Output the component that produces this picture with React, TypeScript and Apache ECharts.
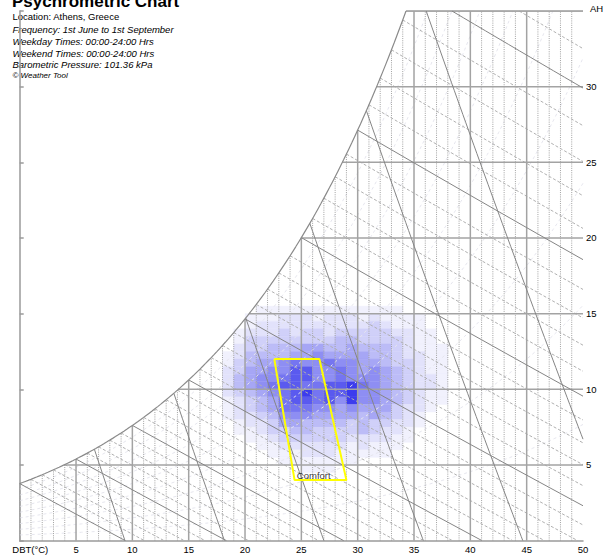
import React, { useEffect, useRef } from "react";
import * as echarts from "echarts";

// ---------- chart constants / text ----------
const PRESSURE_KPA = 101.36;
const titleText = "Psychrometric Chart";
const infoLines = [
  "Location: Athens, Greece",
  "Frequency: 1st June to 1st September",
  "Weekday Times: 00:00-24:00 Hrs",
  "Weekend Times: 00:00-24:00 Hrs",
  "Barometric Pressure: 101.36 kPa",
];
const creditText = "© Weather Tool";
const xAxisName = "DBT(°C)";
const yAxisName = "AH";

// axes (DBT °C, AH g/kg)
const dbtMin = 0;
const dbtMax = 50;
const dbtStep = 5;
const ahMin = 0;
const ahMax = 35;
const ahStep = 5;

// psychrometric line families
const wetBulbTemps = Array.from({ length: 37 }, (_, i) => i); // 0..36 °C
const specificVolumes = [0.8, 0.825, 0.85, 0.875, 0.9, 0.925]; // m3/kg
const relHumidities = [0.1, 0.2, 0.3, 0.4, 0.5, 0.6, 0.7, 0.8, 0.9];

// frequency bins: columns = DBT lower edge (1 °C wide), rows = AH lower edge (0.5 g/kg tall)
const heatDBT = [18, 19, 20, 21, 22, 23, 24, 25, 26, 27, 28, 29, 30, 31, 32, 33, 34, 35, 36, 37];
const heatAH = [15, 14.5, 14, 13.5, 13, 12.5, 12, 11.5, 11, 10.5, 10, 9.5, 9, 8.5, 8, 7.5, 7, 6.5, 6, 5.5, 5, 4.5];
const freq15_0 = [0, 0, 0, 1, 1, 1, 1, 1, 1, 1, 1, 1, 1, 1, 1, 1, 0, 0, 0, 0];
const freq14_5 = [0, 0, 1, 1, 1, 2, 2, 2, 1, 2, 2, 2, 1, 2, 1, 1, 1, 1, 0, 0];
const freq14_0 = [0, 0, 1, 2, 2, 2, 2, 2, 2, 2, 2, 2, 2, 3, 2, 1, 1, 1, 0, 0];
const freq13_5 = [0, 1, 2, 2, 2, 3, 2, 3, 3, 2, 3, 3, 3, 3, 3, 2, 2, 1, 1, 0];
const freq13_0 = [0, 1, 3, 3, 3, 3, 3, 3, 3, 3, 4, 4, 3, 3, 3, 3, 2, 1, 1, 0];
const freq12_5 = [0, 2, 3, 3, 4, 4, 4, 5, 5, 4, 4, 5, 4, 4, 4, 3, 2, 1, 1, 1];
const freq12_0 = [1, 2, 4, 4, 4, 4, 5, 5, 6, 5, 5, 5, 5, 4, 4, 3, 2, 2, 1, 1];
const freq11_5 = [1, 3, 4, 5, 5, 6, 7, 6, 6, 7, 6, 6, 5, 5, 4, 3, 3, 2, 1, 1];
const freq11_0 = [2, 3, 5, 5, 6, 6, 8, 8, 6, 6, 7, 6, 5, 6, 5, 4, 3, 2, 1, 1];
const freq10_5 = [2, 4, 5, 6, 6, 7, 8, 8, 6, 6, 7, 6, 6, 6, 5, 4, 3, 2, 2, 1];
const freq10_0 = [2, 4, 5, 6, 7, 8, 8, 7, 7, 8, 8, 9, 7, 6, 5, 4, 3, 2, 2, 1];
const freq9_5 = [2, 3, 4, 5, 6, 7, 8, 9, 7, 8, 8, 9, 6, 6, 5, 4, 3, 2, 1, 1];
const freq9_0 = [1, 2, 3, 4, 5, 7, 8, 8, 7, 8, 6, 9, 6, 6, 5, 4, 3, 2, 1, 1];
const freq8_5 = [1, 2, 3, 4, 5, 7, 7, 7, 6, 6, 5, 6, 5, 5, 5, 3, 2, 2, 1, 0];
const freq8_0 = [1, 2, 2, 3, 4, 6, 6, 6, 5, 5, 5, 5, 4, 5, 4, 3, 2, 1, 0, 0];
const freq7_5 = [0, 1, 2, 2, 3, 5, 5, 4, 4, 4, 4, 3, 4, 3, 3, 2, 2, 1, 0, 0];
const freq7_0 = [0, 1, 1, 2, 3, 3, 4, 4, 3, 3, 3, 3, 4, 3, 2, 2, 1, 0, 0, 0];
const freq6_5 = [0, 0, 1, 1, 2, 3, 3, 3, 3, 3, 3, 2, 2, 2, 2, 1, 1, 0, 0, 0];
const freq6_0 = [0, 0, 0, 1, 1, 2, 2, 2, 2, 2, 2, 1, 2, 1, 1, 1, 0, 0, 0, 0];
const freq5_5 = [0, 0, 0, 0, 1, 1, 1, 2, 2, 2, 1, 1, 1, 1, 1, 0, 0, 0, 0, 0];
const freq5_0 = [0, 0, 0, 0, 0, 1, 1, 1, 1, 1, 1, 1, 0, 0, 0, 0, 0, 0, 0, 0];
const freq4_5 = [0, 0, 0, 0, 0, 0, 0, 1, 1, 1, 0, 0, 0, 0, 0, 0, 0, 0, 0, 0];
const freqRows = [
  freq15_0, freq14_5, freq14_0, freq13_5, freq13_0, freq12_5, freq12_0, freq11_5,
  freq11_0, freq10_5, freq10_0, freq9_5, freq9_0, freq8_5, freq8_0, freq7_5,
  freq7_0, freq6_5, freq6_0, freq5_5, freq5_0, freq4_5,
];

// comfort zone
const comfortDBT = [22.6, 26.6, 29.0, 24.4];
const comfortAH = [12, 12, 4, 4];
const comfortLabel = "Comfort";
const comfortLabelAt = [26.1, 4.3];

// ---------- styles ----------
const FONT = "'Liberation Sans', Arial, Helvetica, sans-serif";
const heatPalette = ["#ffffff", "#f1f1fd", "#e2e2fb", "#d0d0f9", "#bcbcf7", "#a6a6f5", "#8e8ef3", "#7575f1", "#5a5aef", "#3c3ced"];

// ---------- psychrometrics ----------
const pws = (t: number) => 0.61094 * Math.exp((17.625 * t) / (t + 243.04));
const wFromPw = (pw: number) => (621.945 * pw) / (PRESSURE_KPA - pw);
const wsat = (t: number) => wFromPw(pws(t));
const bisect = (f: (x: number) => number, a: number, b: number) => {
  let fa = f(a);
  for (let i = 0; i < 60; i++) {
    const m = (a + b) / 2;
    const fm = f(m);
    if ((fm > 0) === (fa > 0)) {
      a = m;
      fa = fm;
    } else b = m;
  }
  return (a + b) / 2;
};
const dewPoint = (w: number) => bisect((t) => wsat(t) - w, -20, 80);
const wetBulbW = (t: number, twb: number) => {
  const ws = wsat(twb) / 1000;
  return (((2501 - 2.326 * twb) * ws - 1.006 * (t - twb)) / (2501 + 1.86 * t - 4.186 * twb)) * 1000;
};
const volumeW = (t: number, v: number) => ((v * PRESSURE_KPA) / (0.287042 * (t + 273.15)) - 1) / 1.607858 * 1000;

function sample(f: (t: number) => number, a: number, b: number, step: number) {
  const pts: number[][] = [];
  for (let t = a; t < b; t += step) pts.push([t, f(t)]);
  pts.push([b, f(b)]);
  return pts;
}

function buildSeries() {
  const series: any[] = [];
  const line = (data: number[][], color: string, width: number, type: any, z: number) =>
    series.push({
      type: "line",
      data,
      showSymbol: false,
      symbol: "none",
      silent: true,
      clip: true,
      lineStyle: { color, width, type },
      z,
    });

  // heatmap cells
  const cells: number[][] = [];
  heatAH.forEach((w, r) => {
    heatDBT.forEach((t, c) => {
      const v = freqRows[r][c];
      if (v > 0) cells.push([t, w, v]);
    });
  });
  series.push({
    type: "custom",
    data: cells,
    encode: { x: 0, y: 1 },
    clip: true,
    silent: true,
    z: 1,
    renderItem: (_p: any, api: any) => {
      const t = api.value(0);
      const w = api.value(1);
      const lvl = api.value(2);
      const a = api.coord([t, w + 0.5]);
      const b = api.coord([t + 1, w]);
      const col = heatPalette[lvl];
      return {
        type: "rect",
        shape: { x: a[0], y: a[1], width: b[0] - a[0], height: b[1] - a[1] },
        style: { fill: col, stroke: col, lineWidth: 0.4 },
      };
    },
  });

  const tTop = dewPoint(ahMax);

  // relative humidity curves (faint)
  relHumidities.forEach((phi) => {
    const tEnd = Math.min(dbtMax, bisect((t) => wFromPw(phi * pws(t)) - ahMax, 0, 100));
    line(sample((t) => wFromPw(phi * pws(t)), dbtMin, tEnd, 0.5), "#e6e6ee", 1, [3, 3], 2);
  });

  // vertical DBT lines
  for (let t = dbtMin; t < dbtMax; t++) {
    const top = Math.min(wsat(t), ahMax);
    const major = t % 5 === 0 && t > 0;
    line(
      [[t, 0], [t, top]],
      major ? "#a3a3a3" : "#a0a0a0",
      major ? 1.5 : 1,
      major ? "solid" : [1, 1.2],
      major ? 3 : 2
    );
  }

  // horizontal AH lines
  for (let w = ahStep; w <= ahMax; w += ahStep) {
    line([[dewPoint(w), w], [dbtMax, w]], "#a3a3a3", 1.5, "solid", 3);
  }

  // wet bulb lines
  wetBulbTemps.forEach((twb) => {
    const f = (t: number) => wetBulbW(t, twb);
    const tZero = Math.min(dbtMax, bisect(f, twb, 200));
    const tStart = wsat(twb) > ahMax ? bisect((t) => f(t) - ahMax, twb, 200) : twb;
    if (tStart >= dbtMax) return;
    const major = twb % 5 === 0;
    line(sample(f, tStart, tZero, 1), major ? "#858585" : "#b0b0b0", 1, major ? "solid" : [3, 2], major ? 4 : 2);
  });

  // specific volume lines
  specificVolumes.forEach((v) => {
    const f = (t: number) => volumeW(t, v);
    const tSat = bisect((t) => f(t) - Math.min(wsat(t), ahMax), -20, 80);
    const tZero = Math.min(dbtMax, (v * PRESSURE_KPA) / 0.287042 - 273.15);
    line(sample(f, tSat, tZero, 0.25), "#858585", 1, "solid", 4);
  });

  // saturation curve
  line(sample(wsat, dbtMin, tTop, 0.25), "#8a8a8a", 1.2, "solid", 4);
  // left edge below saturation
  line([[dbtMin, 0], [dbtMin, wsat(dbtMin)]], "#a0a0a0", 1, "solid", 3);
  // top edge
  line([[tTop, ahMax], [dbtMax, ahMax]], "#a3a3a3", 1.5, "solid", 3);

  // comfort zone
  const poly = comfortDBT.map((t, i) => [t, comfortAH[i]]);
  poly.push(poly[0]);
  line(poly, "#ffff00", 2, "solid", 10);

  series.push({
    type: "scatter",
    data: [comfortLabelAt],
    symbolSize: 0,
    silent: true,
    z: 11,
    label: {
      show: true,
      position: "inside",
      formatter: comfortLabel,
      color: "#000",
      fontSize: 9.5,
      fontFamily: FONT,
    },
  });

  return series;
}

export default function App() {
  const ref = useRef<HTMLDivElement>(null);

  useEffect(() => {
    if (!ref.current) return;
    const chart = echarts.init(ref.current, undefined, { renderer: "svg" });
    const smallText = (text: string, y: number, italic: boolean) => ({
      type: "text",
      x: 12.5,
      y,
      silent: true,
      style: {
        text,
        fill: "#000",
        fontSize: 9.5,
        fontFamily: FONT,
        fontStyle: italic ? "italic" : "normal",
        textVerticalAlign: "middle",
      },
    });
    const infoY = [16.3, 29.3, 41.8, 53.3, 64.7];
    chart.setOption({
      animation: false,
      backgroundColor: "#ffffff",
      grid: { left: 19.7, right: 21, top: 11, bottom: 16.35, containLabel: false, outerBoundsMode: "none" },
      xAxis: {
        type: "value",
        min: dbtMin,
        max: dbtMax,
        interval: dbtStep,
        axisLine: { show: true, lineStyle: { color: "#9a9a9a", width: 1.5 } },
        axisTick: { show: false },
        splitLine: { show: false },
        axisLabel: {
          color: "#000",
          fontSize: 9.5,
          fontFamily: FONT,
          margin: 4,
          formatter: (v: number) => (v === dbtMin ? "" : String(v)),
        },
      },
      yAxis: {
        type: "value",
        position: "right",
        min: ahMin,
        max: ahMax,
        interval: ahStep,
        axisLine: { show: true, lineStyle: { color: "#9a9a9a", width: 1.5 } },
        axisTick: { show: true, length: 4, lineStyle: { color: "#9a9a9a", width: 1.5 } },
        splitLine: { show: false },
        axisLabel: {
          color: "#000",
          fontSize: 9.5,
          fontFamily: FONT,
          margin: 3,
          formatter: (v: number) => (v === ahMin || v === ahMax ? "" : String(v)),
        },
      },
      graphic: [
        {
          type: "text",
          x: 12,
          y: 1.6,
          silent: true,
          style: {
            text: titleText,
            fill: "#000",
            fontSize: 17,
            fontWeight: "bold",
            fontFamily: FONT,
            textVerticalAlign: "middle",
          },
        },
        smallText(infoLines[0], infoY[0], false),
        smallText(infoLines[1], infoY[1], true),
        smallText(infoLines[2], infoY[2], true),
        smallText(infoLines[3], infoY[3], true),
        smallText(infoLines[4], infoY[4], true),
        {
          type: "text",
          x: 12.5,
          y: 75,
          silent: true,
          style: {
            text: creditText,
            fill: "#000",
            fontSize: 8,
            fontStyle: "italic",
            fontFamily: FONT,
            textVerticalAlign: "middle",
          },
        },
        {
          type: "text",
          x: 12.3,
          y: 549,
          silent: true,
          style: { text: xAxisName, fill: "#000", fontSize: 9.5, fontFamily: FONT, textVerticalAlign: "middle" },
        },
        {
          type: "text",
          x: 590,
          y: 8,
          silent: true,
          style: { text: yAxisName, fill: "#000", fontSize: 9.5, fontFamily: FONT, textVerticalAlign: "middle" },
        },
      ],
      series: buildSeries(),
    });
    return () => chart.dispose();
  }, []);

  return <div ref={ref} style={{ position: "absolute", left: 0, top: 0, width: 604, height: 557 }} />;
}
